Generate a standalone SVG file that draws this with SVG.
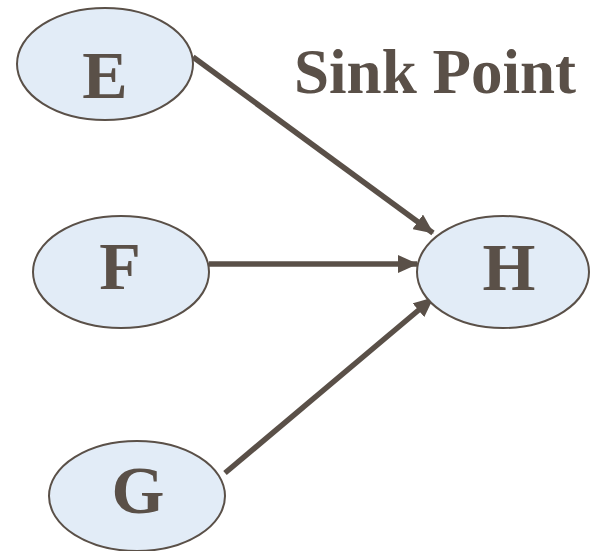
<svg xmlns="http://www.w3.org/2000/svg" width="590" height="551" viewBox="0 0 590 551">
<style>
.node ellipse{fill:#e2ecf7;stroke:#5a5048;stroke-width:2}
.node text,.label{font-family:"Liberation Serif","Times New Roman",serif;font-weight:bold;fill:#5a5048;text-anchor:middle}
.node text{font-size:68px}
.label{font-size:63px}
.edge{stroke:#5a5048;stroke-width:5.5;fill:none;marker-end:url(#arr)}
</style>
<defs>
<marker id="arr" markerUnits="userSpaceOnUse" markerWidth="20" markerHeight="18" refX="19" refY="9" orient="auto">
<path d="M0,0 L20,9 L0,18 Z" fill="#5a5048"/>
</marker>
</defs>
<g id="edges">
<line class="edge" x1="193" y1="57" x2="433" y2="233"/>
<line class="edge" x1="209" y1="264" x2="417" y2="264"/>
<line class="edge" x1="225" y1="473" x2="433" y2="298"/>
</g>
<g id="E" class="node"><ellipse cx="105" cy="64" rx="88" ry="56"/><text x="105" y="98">E</text></g>
<g id="F" class="node"><ellipse cx="121" cy="272" rx="88" ry="56"/><text x="120" y="289">F</text></g>
<g id="G" class="node"><ellipse cx="137" cy="496" rx="88" ry="55"/><text x="138" y="513">G</text></g>
<g id="H" class="node"><ellipse cx="503" cy="272" rx="86" ry="56"/><text x="509" y="290">H</text></g>
<text class="label" x="435" y="93">Sink Point</text>
</svg>
